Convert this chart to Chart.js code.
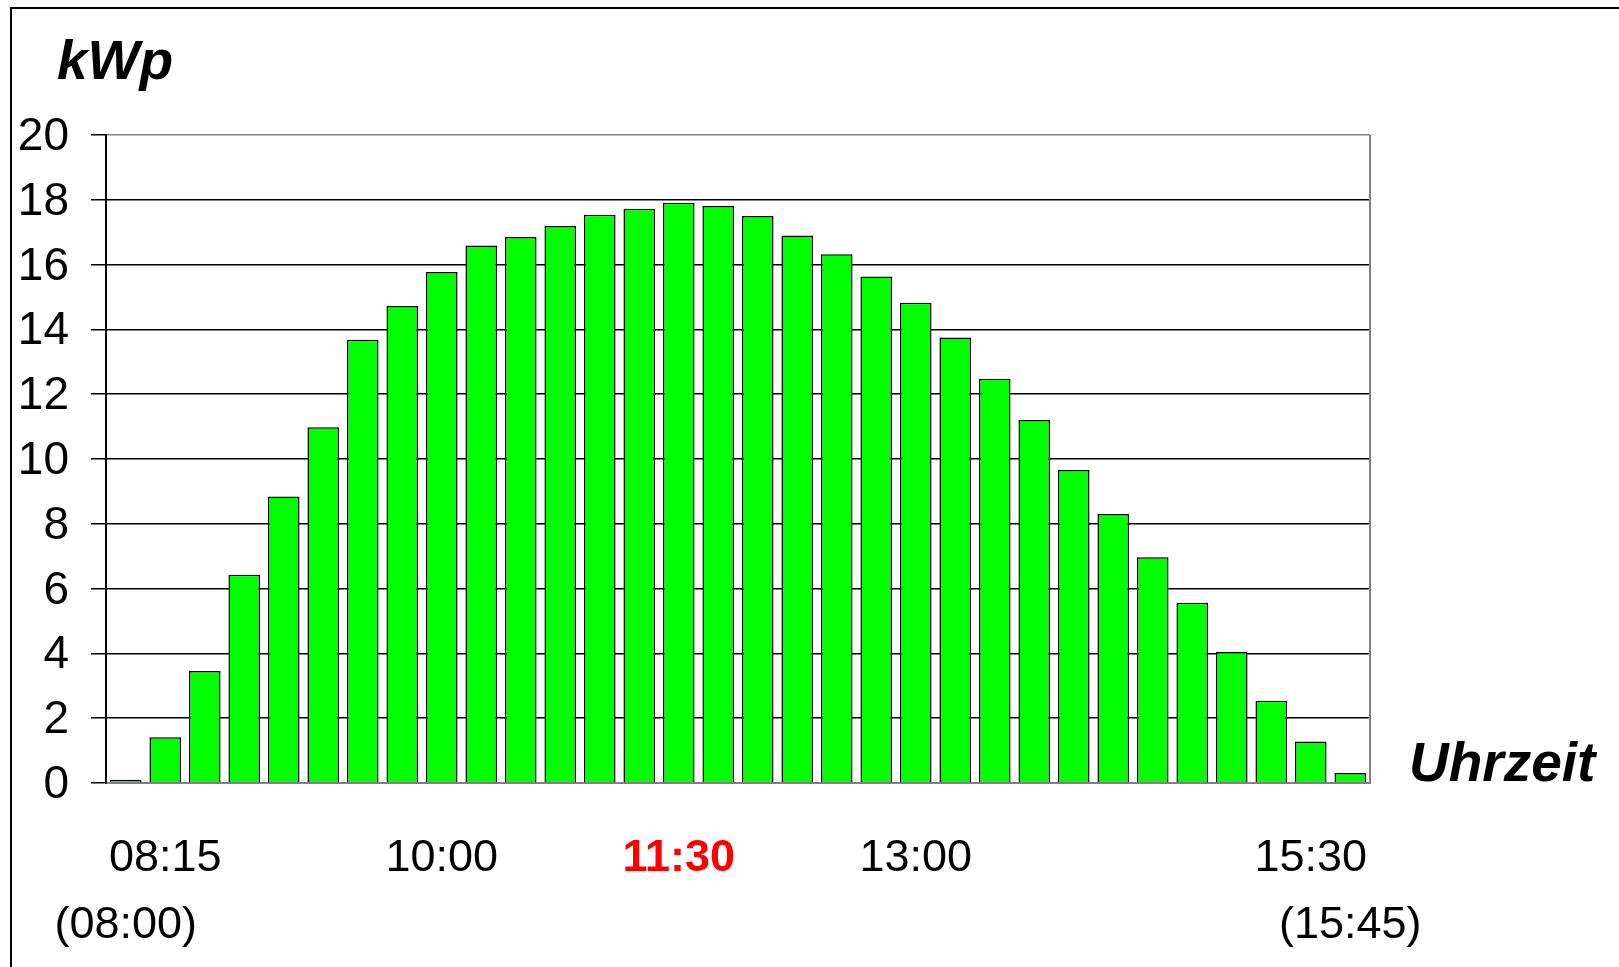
<!DOCTYPE html>
<html>
<head>
<meta charset="utf-8">
<script src="https://cdn.jsdelivr.net/npm/chart.js@4"></script>
<style>
  html, body { margin: 0; padding: 0; background: #fff; overflow: hidden; }
  #wrap { position: relative; width: 1619px; height: 967px; }
  #frame { position: absolute; left: 10px; top: 7px; width: 1700px; height: 1100px;
           border-left: 2px solid #000; border-top: 2px solid #000; box-sizing: border-box; }
  canvas { position: absolute; left: 0; top: 0; }
  .lbl { position: absolute; font-family: "Liberation Sans", Arial, sans-serif; font-weight: bold;
         font-style: italic; font-size: 55px; line-height: 55px; color: #000; white-space: nowrap; }
</style>
</head>
<body>
<div id="wrap">
  <div id="frame"></div>
  <canvas id="c" width="1619" height="967"></canvas>
  <div class="lbl" style="left:57px; top:33px;">kWp</div>
  <div class="lbl" style="left:1409px; top:735px;">Uhrzeit</div>
</div>
<script>
// --- Data ---
const times = ["08:00","08:15","08:30","08:45","09:00","09:15","09:30","09:45",
               "10:00","10:15","10:30","10:45","11:00","11:15","11:30","11:45",
               "12:00","12:15","12:30","12:45","13:00","13:15","13:30","13:45",
               "14:00","14:15","14:30","14:45","15:00","15:15","15:30","15:45"];
const power = [0.1, 1.41, 3.46, 6.43, 8.84, 10.98, 13.68, 14.72,
               15.77, 16.59, 16.85, 17.19, 17.54, 17.72, 17.91, 17.81,
               17.50, 16.90, 16.32, 15.63, 14.82, 13.75, 12.48, 11.20,
               9.66, 8.30, 6.97, 5.56, 4.05, 2.54, 1.28, 0.31];
const topTickTimes = ["08:15","10:00","11:30","13:00","15:30"];
const bottomTickTimes = ["08:00","15:45"];
const highlightTime = "11:30";
const yMin = 0, yMax = 20, yStep = 2;

const FONT = '"Liberation Sans", Arial, sans-serif';

const framePlugin = {
  id: 'frameRight',
  afterDraw(chart) {
    const a = chart.chartArea, ctx = chart.ctx;
    ctx.save();
    ctx.strokeStyle = '#808080';
    ctx.lineWidth = 2;
    ctx.beginPath();
    ctx.moveTo(a.right, a.top);
    ctx.lineTo(a.right, a.bottom);
    ctx.stroke();
    ctx.restore();
  }
};

new Chart(document.getElementById('c'), {
  type: 'bar',
  data: {
    labels: times,
    datasets: [{
      data: power,
      backgroundColor: '#00ff00',
      borderColor: '#000000',
      borderWidth: 1.5,
      barPercentage: 0.8,
      categoryPercentage: 1.0
    }]
  },
  options: {
    responsive: false,
    animation: false,
    layout: { padding: { left: 10, top: 135, right: 249, bottom: 0 } },
    plugins: { legend: { display: false }, tooltip: { enabled: false }, title: { display: false } },
    scales: {
      x: {
        afterFit: s => { s.height = 184; },
        grid: { display: false, drawTicks: false },
        border: { display: true, color: '#808080', width: 2 },
        ticks: {
          autoSkip: false,
          maxRotation: 0,
          minRotation: 0,
          padding: 42,
          callback: (v, i) => {
            const t = times[i];
            const a = topTickTimes.includes(t) ? t : "";
            const b = bottomTickTimes.includes(t) ? "(" + t + ")" : "";
            return b ? [a, b] : a;
          },
          color: ctx => times[ctx.index] === highlightTime ? '#ff0000' : '#000000',
          font: ctx => ({ family: FONT, size: 45, lineHeight: 1.49,
                          weight: times[ctx.index] === highlightTime ? 'bold' : 'normal' })
        }
      },
      y: {
        min: yMin, max: yMax,
        afterFit: s => { s.width = 96; },
        border: { display: true, color: '#000000', width: 2 },
        grid: {
          drawTicks: true,
          tickLength: 15,
          lineWidth: 1.5,
          color: ctx => (ctx.tick && ctx.tick.value === yMax) ? '#808080' : '#000000',
          tickColor: '#000000'
        },
        ticks: {
          stepSize: yStep,
          padding: 22,
          color: '#000000',
          // empty first line nudges the digits a few pixels down so they centre on the grid line
          callback: v => ["", String(v)],
          font: { family: FONT, size: 46, lineHeight: 0.1 }
        }
      }
    }
  },
  plugins: [framePlugin]
});
</script>
</body>
</html>
